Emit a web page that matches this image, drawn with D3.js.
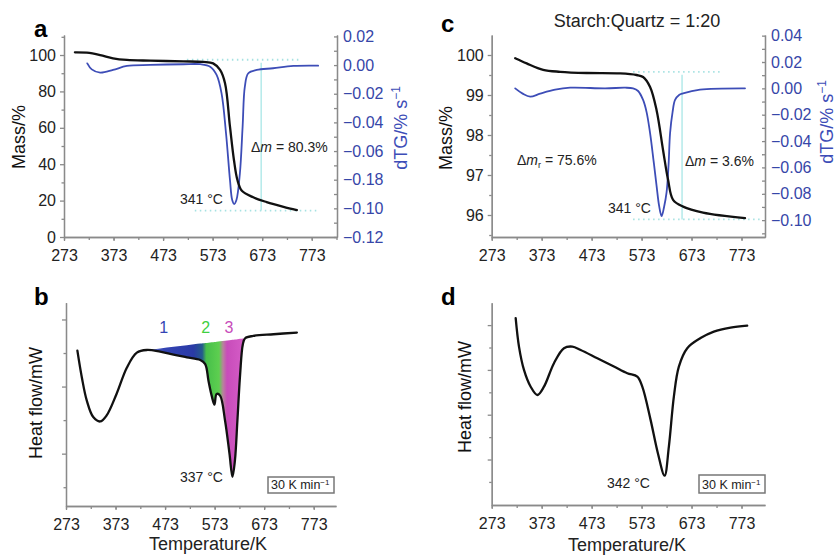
<!DOCTYPE html>
<html>
<head>
<meta charset="utf-8">
<script src="https://cdnjs.cloudflare.com/ajax/libs/d3/7.8.5/d3.min.js"></script>
<style>
  body { margin: 0; background: #fff; }
  svg { font-family: "Liberation Sans", Arial, sans-serif; }
  .axis path, .axis line { stroke: #8a8a8a; stroke-width: 1.3; }
  .axis text { font-size: 16px; fill: #222; }
  .blue text { fill: #3646a8; }
</style>
</head>
<body>
<div id="chart"></div>
<script>
// x axis labels, K (same in every panel)
var tempTicks = [273, 373, 473, 573, 673, 773];

// panel a: mass (%) and dTG of pure starch
var tempMassA = [295, 319, 346, 372, 400, 447, 514, 554, 574, 588, 598, 608, 616, 623, 632, 655, 682, 716, 743];
var massA = [101.5, 101.3, 100.0, 98.2, 97.3, 96.9, 96.5, 96.2, 95.4, 91.8, 84.5, 60.6, 42.3, 31.3, 25.4, 21.8, 19.2, 16.6, 14.8];
var tempDtgA = [320, 329, 346, 372, 400, 447, 514, 548, 568, 581, 591, 600, 608, 612.5, 616.5, 621, 628, 633.5, 638, 645, 662, 695, 736, 786];
var dtgA = [0.0012, -0.003, -0.0053, -0.0034, -0.0006, 0.0001, 0.0006, 0.0006, -0.0011, -0.0069, -0.0197, -0.0476, -0.0802, -0.0942, -0.097, -0.0942, -0.0755, -0.043, -0.015, -0.0057, -0.0034, -0.0022, -0.0006, -0.0004];
var massTicksA = [0, 20, 40, 60, 80, 100];
var dtgTicksA = [0.02, 0, -0.02, -0.04, -0.06, -0.08, -0.10, -0.12];
var dtgLabelsA = ["0.02", "0.00", "\u22120.02", "\u22120.04", "\u22120.06", "\u22120.18", "\u22120.10", "\u22120.12"];
var refLevelsA = [97.4, 14.5];
var refSpansA = [[521, 751], [537, 783]];
var stepTempA = 671;

// panel b: DSC heat flow (arbitrary units)
var tempHeatB = [296, 305, 315, 328, 342, 355, 375, 396, 416, 436, 463, 490, 517, 544, 554, 560.6, 567, 572.6, 577, 584, 594, 603, 609, 614, 619, 624.5, 630, 634.6, 651, 692, 739];
var heatB = [4.07, 3.27, 2.58, 2.09, 1.96, 2.14, 2.78, 3.57, 4.01, 4.09, 4.04, 3.95, 3.87, 3.79, 3.67, 3.17, 2.73, 2.46, 2.78, 2.73, 1.99, 1.0, 0.31, 0.80, 1.99, 3.37, 4.26, 4.44, 4.51, 4.56, 4.61];
var fillBaseB = [[436, 4.09], [634.6, 4.44]];
var stageLabels = ["1", "2", "3"];
var stageTemps = [470, 555, 602];

// panel c: starch:quartz = 1:20
var tempMassC = [320, 343, 376, 410, 463, 530, 563, 576, 590, 603, 616, 626, 636, 656, 696, 780];
var massC = [99.92, 99.79, 99.63, 99.58, 99.55, 99.54, 99.5, 99.45, 99.2, 98.62, 97.62, 96.88, 96.38, 96.21, 96.06, 95.92];
var tempDtgC = [320, 335, 350, 370, 400, 430, 500, 540, 556, 566, 576, 583, 590, 597, 603, 608, 613, 618, 623, 627, 630, 635, 640, 648, 656, 690, 780];
var dtgC = [0.0, -0.004, -0.0063, -0.004, -0.001, 0.0005, 0.0, 0.0005, 0.0, -0.002, -0.0088, -0.018, -0.034, -0.055, -0.074, -0.089, -0.097, -0.09, -0.079, -0.058, -0.034, -0.018, -0.0088, -0.005, -0.0038, -0.001, 0.0];
var massTicksC = [96, 97, 98, 99, 100];
var dtgTicksC = [0.04, 0.02, 0, -0.02, -0.04, -0.06, -0.08, -0.10];
var dtgLabelsC = ["0.04", "0.02", "0.00", "\u22120.02", "\u22120.04", "\u22120.06", "\u22120.08", "\u22120.10"];
var refLevelsC = [99.58, 95.89];
var refSpansC = [[556, 730], [556, 815]];
var stepTempC = 654;

// panel d: DSC heat flow, starch:quartz = 1:20
var tempHeatD = [321, 327.6, 337.6, 351, 364.4, 377.6, 397.6, 417.6, 434.4, 451, 484.4, 517.6, 544.4, 564.4, 574.4, 591, 605.6, 619, 627.6, 637.6, 647.6, 664.4, 691, 717.6, 751, 784.4];
var heatD = [7.31, 6.04, 5.0, 4.25, 3.88, 4.25, 5.30, 5.97, 6.04, 5.89, 5.52, 5.15, 4.85, 4.70, 4.25, 2.77, 1.28, 0.28, 1.58, 3.81, 5.15, 5.97, 6.42, 6.71, 6.89, 6.98];

var blue = "#3d4db7";
var cyan = "#a6e2e2";

var svg = d3.select("#chart")
  .append("svg")
    .attr("width", 836)
    .attr("height", 557);

// bottom axis with 50 K minor ticks
function drawX(x, y0, pad) {
  var end = x.domain()[1];
  svg.append("g").attr("class", "axis")
    .attr("transform", "translate(0," + y0 + ")")
    .call(d3.axisBottom(x).tickValues(d3.range(273, end + 1, 50)).tickSize(3).tickSizeOuter(0).tickFormat(""));
  svg.append("g").attr("class", "axis")
    .attr("transform", "translate(0," + y0 + ")")
    .call(d3.axisBottom(x).tickValues(tempTicks).tickSize(4).tickSizeOuter(0).tickPadding(pad).tickFormat(d3.format("d")));
}

function drawLine(xs, ys, x, y, color, w) {
  var pts = xs.map(function(t, i) { return [t, ys[i]]; });
  svg.append("path")
    .datum(pts)
    .attr("fill", "none")
    .attr("stroke", color)
    .attr("stroke-width", w)
    .attr("stroke-linejoin", "round")
    .attr("stroke-linecap", "round")
    .attr("d", d3.line()
      .curve(d3.curveCatmullRom.alpha(0.5))
      .x(function(d) { return x(d[0]); })
      .y(function(d) { return y(d[1]); }));
}

function rotLabel(x, y, txt, sup, color) {
  var t = svg.append("text")
    .attr("transform", "translate(" + x + "," + y + ") rotate(-90)")
    .attr("text-anchor", "middle")
    .attr("font-size", 18)
    .attr("fill", color)
    .text(txt);
  if (sup) {
    t.append("tspan").attr("dy", "-0.55em").attr("font-size", 12).text(sup);
  }
}

function refLines(x, y, levels, spans, stepT) {
  levels.forEach(function(m, i) {
    svg.append("line")
      .attr("x1", x(spans[i][0])).attr("x2", x(spans[i][1]))
      .attr("y1", y(m)).attr("y2", y(m))
      .attr("stroke", cyan).attr("stroke-width", 1.8)
      .attr("stroke-dasharray", "1.5,3.5");
  });
  svg.append("line")
    .attr("x1", x(stepT)).attr("x2", x(stepT))
    .attr("y1", y(levels[0]) + 3).attr("y2", y(levels[1]))
    .attr("stroke", "#b4eaea").attr("stroke-width", 1.5);
}

function panelLetter(x, y, s) {
  svg.append("text").attr("x", x).attr("y", y)
    .attr("font-size", 24).attr("font-weight", "bold").text(s);
}

function rateBox(x0, y0, w, h) {
  svg.append("rect").attr("x", x0).attr("y", y0).attr("width", w).attr("height", h)
    .attr("fill", "#fff").attr("stroke", "#777").attr("stroke-width", 1.5);
  svg.append("text").attr("x", x0 + 3).attr("y", y0 + h - 4)
    .attr("font-size", 12.5).attr("fill", "#222")
    .text("30 K min")
    .append("tspan").attr("dy", "-0.5em").attr("font-size", 8).text("\u22121");
}

// ---------- panel a ----------
var xA = d3.scaleLinear().domain([273, 824]).range([64, 337]);
var yA = d3.scaleLinear().domain([0, 111]).range([237, 35]);
var yA2 = d3.scaleLinear().domain([-0.12, 0.021]).range([237, 35]);

refLines(xA, yA, refLevelsA, refSpansA, stepTempA);

svg.append("g").attr("class", "axis")
  .attr("transform", "translate(64,0)")
  .call(d3.axisLeft(yA).tickValues(d3.range(10, 111, 20)).tickSize(2.5).tickSizeOuter(0).tickFormat(""));
svg.append("g").attr("class", "axis")
  .attr("transform", "translate(64,0)")
  .call(d3.axisLeft(yA).tickValues(massTicksA).tickSize(4).tickSizeOuter(0).tickPadding(4));
svg.append("g").attr("class", "axis blue")
  .attr("transform", "translate(337,0)")
  .call(d3.axisRight(yA2).tickValues(d3.range(-0.12, 0.021, 0.01)).tickSize(-3).tickSizeOuter(0).tickFormat(""))
  .call(function(g) { g.selectAll("path, line").attr("stroke", "#b9bcd0"); });
svg.append("g").attr("class", "axis blue")
  .attr("transform", "translate(337,0)")
  .call(d3.axisRight(yA2).tickValues(dtgTicksA).tickSize(0).tickSizeOuter(0).tickPadding(6)
    .tickFormat(function(d, i) { return dtgLabelsA[i]; }))
  .call(function(g) { g.selectAll("path, line").attr("stroke", "#b9bcd0"); });
drawX(xA, 237, 9);

drawLine(tempDtgA, dtgA, xA, yA2, blue, 1.8);
drawLine(tempMassA, massA, xA, yA, "#111", 2.3);

svg.append("text").attr("x", 251).attr("y", 152).attr("font-size", 14).attr("fill", "#222")
  .html("\u0394<tspan font-style='italic'>m</tspan> = 80.3%");
svg.append("text").attr("x", 180).attr("y", 204).attr("font-size", 14).attr("fill", "#222").text("341 \u00b0C");

rotLabel(25, 137, "Mass/%", null, "#111");
rotLabel(407, 128, "dTG/% s", "\u22121", blue);
panelLetter(34, 37, "a");

// ---------- panel c ----------
var xC = d3.scaleLinear().domain([273, 820]).range([491.7, 765]);
var yC = d3.scaleLinear().domain([95.45, 100.5]).range([237, 35]);
var yC2 = d3.scaleLinear().domain([-0.1128, 0.0405]).range([237, 35]);

refLines(xC, yC, refLevelsC, refSpansC, stepTempC);

svg.append("g").attr("class", "axis")
  .attr("transform", "translate(491.7,0)")
  .call(d3.axisLeft(yC).tickValues([95.5, 96.5, 97.5, 98.5, 99.5]).tickSize(2.5).tickSizeOuter(0).tickFormat(""));
svg.append("g").attr("class", "axis")
  .attr("transform", "translate(491.7,0)")
  .call(d3.axisLeft(yC).tickValues(massTicksC).tickSize(4).tickSizeOuter(0).tickPadding(4).tickFormat(d3.format("d")));
svg.append("g").attr("class", "axis blue")
  .attr("transform", "translate(765,0)")
  .call(d3.axisRight(yC2).tickValues(d3.range(-0.11, 0.041, 0.01)).tickSize(-3).tickSizeOuter(0).tickFormat(""))
  .call(function(g) { g.selectAll("path, line").attr("stroke", "#777"); });
svg.append("g").attr("class", "axis blue")
  .attr("transform", "translate(765,0)")
  .call(d3.axisRight(yC2).tickValues(dtgTicksC).tickSize(0).tickSizeOuter(0).tickPadding(6)
    .tickFormat(function(d, i) { return dtgLabelsC[i]; }))
  .call(function(g) { g.selectAll("path, line").attr("stroke", "#777"); });
drawX(xC, 237, 9);

drawLine(tempDtgC, dtgC, xC, yC2, blue, 1.8);
drawLine(tempMassC, massC, xC, yC, "#111", 2.3);

svg.append("text").attr("x", 517).attr("y", 165).attr("font-size", 14).attr("fill", "#222")
  .html("\u0394<tspan font-style='italic'>m</tspan><tspan font-size='9' dy='3'>r</tspan><tspan dy='-3'> = 75.6%</tspan>");
svg.append("text").attr("x", 685).attr("y", 166).attr("font-size", 14).attr("fill", "#222")
  .html("\u0394<tspan font-style='italic'>m</tspan> = 3.6%");
svg.append("text").attr("x", 608).attr("y", 213).attr("font-size", 14).attr("fill", "#222").text("341 \u00b0C");

svg.append("text").attr("x", 637).attr("y", 27).attr("text-anchor", "middle")
  .attr("font-size", 18).attr("fill", "#222").text("Starch:Quartz = 1:20");
rotLabel(452, 138, "Mass/%", null, "#111");
rotLabel(833, 122, "dTG/% s", "\u22121", blue);
panelLetter(441, 32, "c");

// ---------- panel b ----------
var xB = d3.scaleLinear().domain([273, 818]).range([66, 336]);
var yB = d3.scaleLinear().domain([-0.56, 5.5]).range([506, 302.7]);

var grad = svg.append("defs").append("linearGradient")
  .attr("id", "stages")
  .attr("gradientUnits", "userSpaceOnUse")
  .attr("x1", xB(436)).attr("x2", xB(635)).attr("y1", 0).attr("y2", 0);
[[436, "#7080cc"], [470, "#3444b4"], [530, "#2a3aa6"], [548, "#245a8c"], [556, "#46bf4a"],
 [582, "#5ecf50"], [590, "#b8829c"], [598, "#c84cba"], [635, "#d65ec8"]].forEach(function(s) {
  grad.append("stop").attr("offset", (s[0] - 436) / (635 - 436)).attr("stop-color", s[1]);
});

var fillPts = tempHeatB.map(function(t, i) { return [t, heatB[i]]; })
  .filter(function(d) { return d[0] >= fillBaseB[0][0] && d[0] <= fillBaseB[1][0]; });
var baseAt = d3.scaleLinear().domain([fillBaseB[0][0], fillBaseB[1][0]]).range([fillBaseB[0][1], fillBaseB[1][1]]);
svg.append("path")
  .datum(fillPts)
  .attr("fill", "url(#stages)")
  .attr("d", d3.area()
    .curve(d3.curveCatmullRom.alpha(0.5))
    .x(function(d) { return xB(d[0]); })
    .y0(function(d) { return yB(baseAt(d[0])); })
    .y1(function(d) { return yB(d[1]); }));

svg.append("g").attr("class", "axis")
  .attr("transform", "translate(66,0)")
  .call(d3.axisLeft(yB).tickValues([0, 2, 4]).tickSize(2.5).tickSizeOuter(0).tickFormat(""));
svg.append("g").attr("class", "axis")
  .attr("transform", "translate(66,0)")
  .call(d3.axisLeft(yB).tickValues([1, 3, 5]).tickSize(4).tickSizeOuter(0).tickFormat(""));
drawX(xB, 506, 9);

drawLine(tempHeatB, heatB, xB, yB, "#111", 2.3);

var stageColors = ["#3444b4", "#3fcf3f", "#c84cba"];
stageLabels.forEach(function(s, i) {
  svg.append("text").attr("x", xB(stageTemps[i])).attr("y", 333)
    .attr("text-anchor", "middle").attr("font-size", 16).attr("fill", stageColors[i]).text(s);
});
svg.append("text").attr("x", 180).attr("y", 482).attr("font-size", 14).attr("fill", "#222").text("337 \u00b0C");
rateBox(268, 477, 66, 16);

rotLabel(42, 403, "Heat flow/mW", null, "#111");
svg.append("text").attr("x", 208).attr("y", 550).attr("text-anchor", "middle")
  .attr("font-size", 18).attr("fill", "#222").text("Temperature/K");
panelLetter(34, 305, "b");

// ---------- panel d ----------
var xD = d3.scaleLinear().domain([273, 820]).range([491.7, 765]);
var yD = d3.scaleLinear().domain([-1.03, 8.0]).range([505, 302.7]);

svg.append("g").attr("class", "axis")
  .attr("transform", "translate(491.7,0)")
  .call(d3.axisLeft(yD).tickValues([0, 2, 4, 6]).tickSize(2.5).tickSizeOuter(0).tickFormat(""));
svg.append("g").attr("class", "axis")
  .attr("transform", "translate(491.7,0)")
  .call(d3.axisLeft(yD).tickValues([1, 3, 5, 7]).tickSize(4).tickSizeOuter(0).tickFormat(""));
drawX(xD, 505, 9);

drawLine(tempHeatD, heatD, xD, yD, "#111", 2.3);

svg.append("text").attr("x", 607).attr("y", 488).attr("font-size", 14).attr("fill", "#222").text("342 \u00b0C");
rateBox(699, 475, 66, 18);

rotLabel(471, 397, "Heat flow/mW", null, "#111");
svg.append("text").attr("x", 627).attr("y", 551).attr("text-anchor", "middle")
  .attr("font-size", 18).attr("fill", "#222").text("Temperature/K");
panelLetter(441, 305, "d");
</script>
</body>
</html>
